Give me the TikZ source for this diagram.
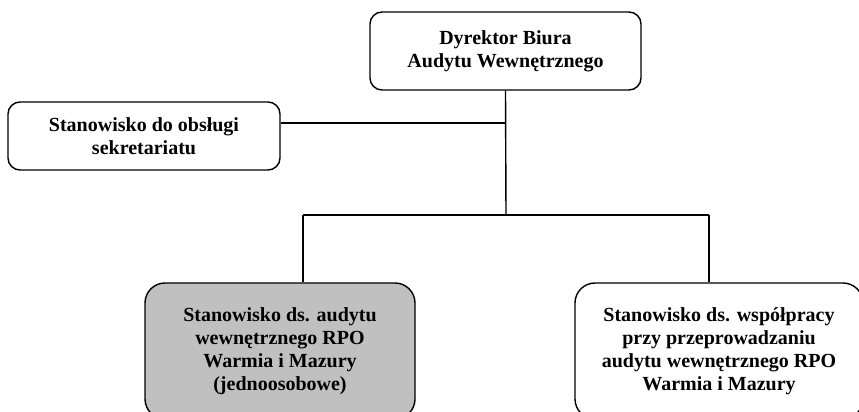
\documentclass[tikz,border=0pt]{standalone}
\usepackage{fontspec}
\setmainfont{Liberation Serif}
\usepackage{tikz}
\usetikzlibrary{positioning,calc}
\definecolor{boxgray}{RGB}{192, 192, 192}

\begin{document}
\begin{tikzpicture}[
        x=1pt, y=1pt,
        unit/.style={draw=black, fill=white, line width=1.4pt, rounded corners=12pt, align=center, inner sep=0pt, font=\fontsize{20}{23}\selectfont\bfseries},
        lowunit/.style={unit, rounded corners=20pt},
        link/.style={line width=1.4pt, draw=black}
    ]
        \useasboundingbox (0,0) rectangle (859,412);

        % Dyrektor
        \node[unit, minimum width=271, minimum height=78] (nDir) at (505.5, 361) {
            Dyrektor Biura\\
            Audytu Wewnętrznego
        };

        % Sekretariat
        \node[unit, minimum width=272, minimum height=68] (nSec) at (144, 276) {
            Stanowisko do obsługi\\
            sekretariatu
        };

        % Audyt (jednoosobowe)
        \node[lowunit, fill=boxgray, minimum width=270, minimum height=136] (nAudit) at (280, 61) {
            Stanowisko ds. audytu\\
            wewnętrznego RPO\\
            Warmia i Mazury\\
            (jednoosobowe)
        };

        % Wspolpraca
        \node[lowunit, minimum width=288, minimum height=136] (nCoop) at (719, 61) {
            Stanowisko ds. współpracy\\
            przy przeprowadzaniu\\
            audytu wewnętrznego RPO\\
            Warmia i Mazury
        };

        % Connectors
        \coordinate (jSec) at (506, 289);
        \coordinate (jBus) at (506, 197);
        \coordinate (jLeft) at (303, 197);
        \coordinate (jRight) at (709, 197);
        \draw[link] (nDir.south) -- (jBus);
        \draw[link] (jSec -| nSec.east) -- (jSec);
        \draw[link] (jLeft) -- (jRight);
        \draw[link] (jLeft) -- (jLeft |- nAudit.north);
        \draw[link] (jRight) -- (jRight |- nCoop.north);
    \end{tikzpicture}
\end{document}
